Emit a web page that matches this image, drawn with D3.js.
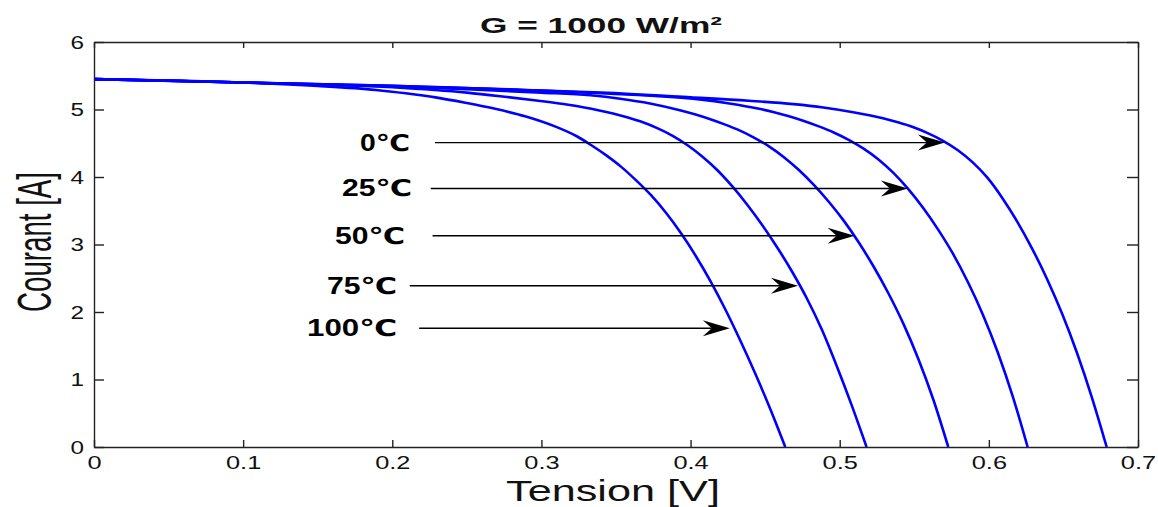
<!DOCTYPE html>
<html>
<head>
<meta charset="utf-8">
<script src="https://cdn.jsdelivr.net/npm/d3@7"></script>
<style>
  html, body { margin: 0; padding: 0; background: #fff; }
  svg { display: block; }
  text { font-family: "Liberation Sans", Arial, "DejaVu Sans", sans-serif; }
</style>
</head>
<body>
<svg id="chart" width="1158" height="507"></svg>
<script>
// ---- data ----
const title = "G = 1000 W/m²";
const xLabel = "Tension [V]";
const yLabel = "Courant [A]";
const xTicks = [0, 0.1, 0.2, 0.3, 0.4, 0.5, 0.6, 0.7];
const xTickLabels = ["0", "0.1", "0.2", "0.3", "0.4", "0.5", "0.6", "0.7"];
const yTicks = [0, 1, 2, 3, 4, 5, 6];
const yTickLabels = ["0", "1", "2", "3", "4", "5", "6"];

const temperatures = ["0℃", "25℃", "50℃", "75℃", "100℃"];

// I-V points [tension V, courant A]
const curve0C = [[0,5.45],[0.1,5.40],[0.2,5.35],[0.3,5.28],[0.34,5.25],[0.40,5.18],[0.439,5.13],[0.469,5.08],[0.489,5.03],[0.509,4.96],[0.529,4.87],[0.539,4.81],[0.549,4.74],[0.559,4.65],[0.569,4.54],[0.579,4.40],[0.589,4.22],[0.599,3.99],[0.609,3.69],[0.619,3.34],[0.629,2.94],[0.639,2.49],[0.649,1.98],[0.659,1.40],[0.669,0.74],[0.679,0]];
const curve25C = [[0,5.45],[0.1,5.40],[0.2,5.35],[0.3,5.28],[0.34,5.24],[0.376,5.20],[0.406,5.15],[0.426,5.09],[0.446,5.01],[0.456,4.96],[0.466,4.90],[0.476,4.83],[0.486,4.75],[0.496,4.66],[0.506,4.55],[0.516,4.42],[0.526,4.26],[0.536,4.06],[0.546,3.82],[0.556,3.54],[0.566,3.22],[0.576,2.86],[0.586,2.44],[0.596,1.96],[0.606,1.40],[0.616,0.75],[0.626,0]];
const curve50C = [[0,5.45],[0.1,5.40],[0.2,5.34],[0.25,5.30],[0.30,5.25],[0.3328,5.21],[0.3528,5.16],[0.3728,5.09],[0.3928,4.99],[0.4028,4.93],[0.4128,4.86],[0.4228,4.78],[0.4328,4.69],[0.4428,4.58],[0.4528,4.45],[0.4628,4.29],[0.4728,4.10],[0.4828,3.88],[0.4928,3.63],[0.5028,3.35],[0.5128,3.03],[0.5228,2.67],[0.5328,2.27],[0.5428,1.82],[0.5528,1.30],[0.5628,0.70],[0.5728,0]];
const curve75C = [[0,5.45],[0.1,5.40],[0.2,5.33],[0.25,5.25],[0.275,5.19],[0.298,5.13],[0.318,5.07],[0.338,4.99],[0.348,4.94],[0.358,4.88],[0.368,4.81],[0.378,4.72],[0.388,4.61],[0.398,4.47],[0.408,4.30],[0.418,4.10],[0.428,3.86],[0.438,3.59],[0.448,3.29],[0.458,2.96],[0.468,2.60],[0.478,2.20],[0.488,1.74],[0.498,1.20],[0.508,0.62],[0.518,0]];
const curve100C = [[0,5.45],[0.05,5.43],[0.10,5.40],[0.15,5.35],[0.189,5.29],[0.209,5.24],[0.229,5.18],[0.249,5.10],[0.269,5.01],[0.289,4.90],[0.309,4.75],[0.324,4.60],[0.3335,4.47],[0.3435,4.32],[0.3535,4.15],[0.3635,3.95],[0.3735,3.73],[0.3835,3.47],[0.3935,3.17],[0.4035,2.83],[0.4135,2.45],[0.4235,2.03],[0.4335,1.57],[0.4435,1.08],[0.4535,0.56],[0.4635,0]];
const curves = [curve0C, curve25C, curve50C, curve75C, curve100C];

// annotation arrows (data units): start V, tip V, current level
const arrowStartV = [0.2286, 0.2258, 0.2270, 0.2117, 0.2180];
const arrowTipV   = [0.5705, 0.5457, 0.5100, 0.4720, 0.4263];
const arrowI      = [4.51, 3.83, 3.13, 2.39, 1.76];

// ---- layout ----
const svg = d3.select("#chart");
const x = d3.scaleLinear().domain([0, 0.7]).range([94, 1138]);
const y = d3.scaleLinear().domain([0, 6]).range([447, 42]);
const axisColor = "#222";
const labelColor = "#111";

// curves
const line = d3.line().x(d => x(d[0])).y(d => y(d[1])).curve(d3.curveMonotoneX);
svg.append("g").selectAll("path").data(curves).join("path")
  .attr("d", line)
  .attr("fill", "none")
  .attr("stroke", "#0000ff")
  .attr("stroke-width", 2.6)
  .attr("stroke-linejoin", "round");

// axes
function styleAxis(g) {
  g.select(".domain").attr("stroke", axisColor).attr("stroke-width", 1.4);
  g.selectAll(".tick line").attr("stroke", axisColor).attr("stroke-width", 1.4);
}
const gx = svg.append("g").attr("transform", `translate(0,${y(0)})`)
  .call(d3.axisBottom(x).tickValues(xTicks).tickSizeInner(-7).tickSizeOuter(0)
    .tickFormat((d, i) => xTickLabels[i]));
styleAxis(gx);
gx.selectAll(".tick text")
  .attr("y", 22).attr("dy", 0)
  .attr("font-size", 17.5).attr("fill", labelColor)
  .attr("transform", "scale(1.45,1)");

const gy = svg.append("g").attr("transform", `translate(${x(0)},0)`)
  .call(d3.axisLeft(y).tickValues(yTicks).tickSizeInner(-10).tickSizeOuter(0)
    .tickFormat((d, i) => yTickLabels[i]));
styleAxis(gy);
gy.selectAll(".tick text")
  .attr("x", -10 / 1.35).attr("dy", "0.36em")
  .attr("font-size", 18).attr("fill", labelColor)
  .attr("transform", "scale(1.35,1)");

const gt = svg.append("g").attr("transform", `translate(0,${y(6)})`)
  .call(d3.axisTop(x).tickValues(xTicks).tickSizeInner(-6).tickSizeOuter(0).tickFormat(""));
styleAxis(gt);
const gr = svg.append("g").attr("transform", `translate(${x(0.7)},0)`)
  .call(d3.axisRight(y).tickValues(yTicks).tickSizeInner(-11).tickSizeOuter(0).tickFormat(""));
styleAxis(gr);

// title
svg.append("text")
  .attr("x", 601).attr("y", 33)
  .attr("text-anchor", "middle")
  .attr("font-size", 22).attr("font-weight", "bold").attr("fill", labelColor)
  .attr("textLength", 242).attr("lengthAdjust", "spacingAndGlyphs")
  .text(title);

// x label
svg.append("text")
  .attr("x", 613).attr("y", 501)
  .attr("text-anchor", "middle")
  .attr("font-size", 29.5).attr("fill", labelColor)
  .attr("textLength", 214).attr("lengthAdjust", "spacingAndGlyphs")
  .text(xLabel);

// y label
svg.append("text")
  .attr("transform", "translate(51,242) scale(1.7,1) rotate(-90)")
  .attr("text-anchor", "middle")
  .attr("font-size", 28).attr("fill", labelColor)
  .attr("textLength", 140).attr("lengthAdjust", "spacingAndGlyphs")
  .text(yLabel);

// annotation arrows + labels
const labelRight = [410, 412, 405, 397, 397];
const labelWidth = [50, 70, 70, 70, 90];
const ann = svg.append("g");
temperatures.forEach((t, i) => {
  const yy = y(arrowI[i]);
  const x0 = x(arrowStartV[i]), x1 = x(arrowTipV[i]);
  ann.append("line")
    .attr("x1", x0).attr("y1", yy).attr("x2", x1 - 18).attr("y2", yy)
    .attr("stroke", "#000").attr("stroke-width", 1.4);
  ann.append("path")
    .attr("d", `M${x1},${yy} L${x1 - 27},${yy - 8} L${x1 - 18},${yy} L${x1 - 27},${yy + 8} Z`)
    .attr("fill", "#000");
  ann.append("text")
    .attr("x", labelRight[i] - labelWidth[i]).attr("y", yy + 8)
    .attr("font-size", 23).attr("font-weight", "bold").attr("fill", "#000")
    .attr("textLength", labelWidth[i]).attr("lengthAdjust", "spacingAndGlyphs")
    .text(t);
});
</script>
</body>
</html>
